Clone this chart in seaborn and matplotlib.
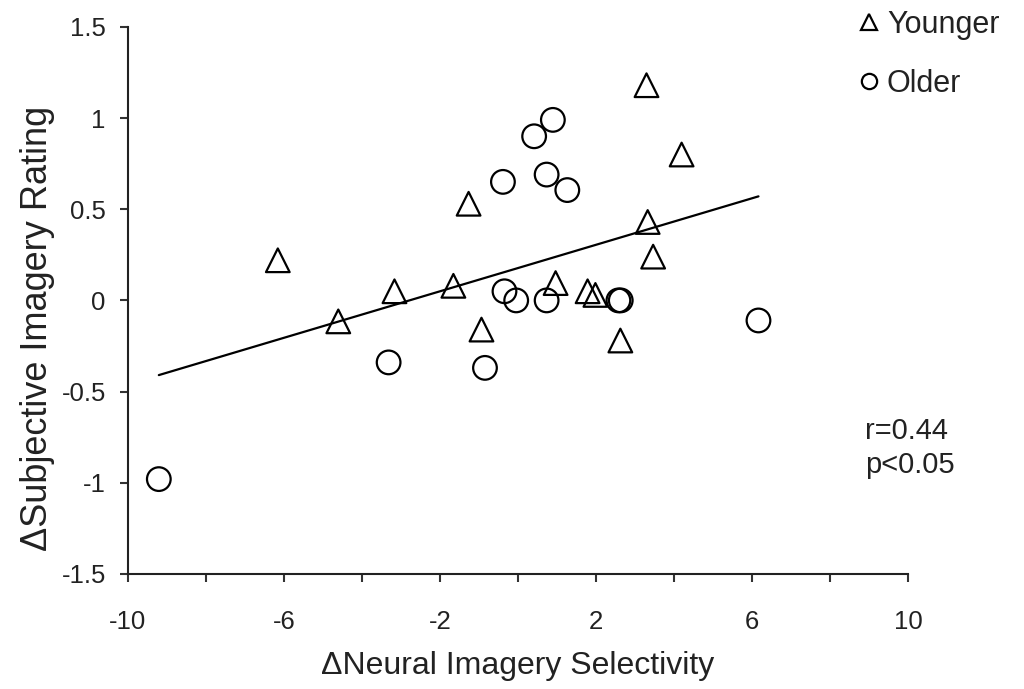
import matplotlib
matplotlib.use("Agg")
import matplotlib.pyplot as plt
import seaborn as sns
import numpy as np
import pandas as pd
from matplotlib.lines import Line2D

sns.set_theme(style="ticks")
plt.rcParams['font.family'] = ['Liberation Sans', 'DejaVu Sans']

younger_x = [3.29, 4.19, -1.27, 3.32, 3.46, -6.16, -3.17, -1.66, 0.96, 1.78, 1.98, -4.61, -0.94, 2.62]
younger_y = [1.18, 0.80, 0.53, 0.43, 0.24, 0.22, 0.05, 0.08, 0.095, 0.05, 0.03, -0.115, -0.16, -0.22]
older_x = [0.89, 0.41, -0.39, 0.73, 1.26, -0.35, -0.05, 0.73, 2.57, 2.63, 6.16, -3.32, -0.85, -9.21]
older_y = [0.99, 0.90, 0.65, 0.69, 0.605, 0.05, 0.0, 0.0, 0.0, 0.0, -0.11, -0.34, -0.37, -0.98]

groups = ["Younger", "Older"]
x_ticks = [-10, -8, -6, -4, -2, 0, 2, 4, 6, 8, 10]
x_labels = ["-10", "", "-6", "", "-2", "", "2", "", "6", "", "10"]
y_ticks = [-1.5, -1, -0.5, 0, 0.5, 1, 1.5]
y_labels = ["-1.5", "-1", "-0.5", "0", "0.5", "1", "1.5"]
stats_text = "r=0.44\np<0.05"

df = pd.DataFrame({
    "x": younger_x + older_x,
    "y": younger_y + older_y,
    "group": [groups[0]] * len(younger_x) + [groups[1]] * len(older_x),
})

fig = plt.figure(figsize=(10.24, 6.89), dpi=100)
ax = fig.add_axes([0.125, 0.167, 0.762, 0.794])

sns.regplot(data=df, x="x", y="y", scatter=False, ci=None, truncate=True,
            color="black", line_kws={"linewidth": 1.6}, ax=ax)
sns.scatterplot(data=df, x="x", y="y", style="group", markers={"Younger": "^", "Older": "o"},
                s=290, facecolor="none", edgecolor="black", linewidth=1.6, legend=False, ax=ax, zorder=3)

ax.set_xlim(-10, 10)
ax.set_ylim(-1.5, 1.5)
ax.set_xticks(x_ticks)
ax.set_xticklabels(x_labels)
ax.set_yticks(y_ticks)
ax.set_yticklabels(y_labels)
ax.tick_params(axis="both", labelsize=18.5, direction="out", length=6, width=1.5, colors="#333333",
               labelcolor="#222222")
ax.tick_params(axis="x", pad=20)
ax.tick_params(axis="y", pad=10)
for s in ["top", "right"]:
    ax.spines[s].set_visible(False)
for s in ["left", "bottom"]:
    ax.spines[s].set_linewidth(1.5)
    ax.spines[s].set_color("#222222")
ax.set_xlabel("\u0394Neural Imagery Selectivity", fontsize=23, color="#222222")
ax.set_ylabel("\u0394Subjective Imagery Rating", fontsize=26, color="#222222")
ax.xaxis.set_label_coords(0.499, -0.14)
ax.yaxis.set_label_coords(-0.094, 0.448)

fig.text(0.845, 0.395, stats_text, fontsize=21, va="top", ha="left", linespacing=1.3, color="#222222")

handles = [Line2D([], [], marker="^", linestyle="none", markerfacecolor="none", markeredgecolor="black",
                  markersize=12, markeredgewidth=1.6),
           Line2D([], [], marker="o", linestyle="none", markerfacecolor="none", markeredgecolor="black",
                  markersize=11, markeredgewidth=1.6)]
leg = fig.legend(handles, groups, loc="upper left", bbox_to_anchor=(0.811, 1.026), frameon=False,
                 fontsize=22, handlelength=0.7, handletextpad=0.25, labelspacing=0.95)
for t in leg.get_texts():
    t.set_color("#222222")

fig.savefig("out.png", dpi=100)
